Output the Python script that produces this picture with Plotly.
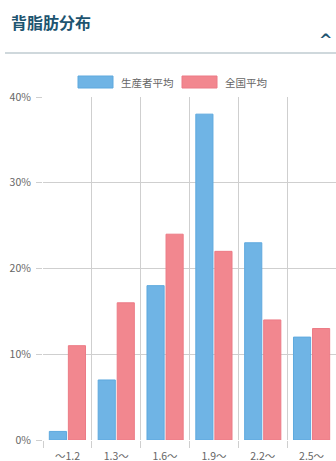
import plotly.graph_objects as go

# Back-fat thickness distribution (cm bands)
categories = ["〜1.2", "1.3〜", "1.6〜", "1.9〜", "2.2〜", "2.5〜"]
series_names = ["生産者平均", "全国平均"]
producer_avg = [1, 7, 18, 38, 23, 12]
national_avg = [11, 16, 24, 22, 14, 13]
y_ticks = [0, 10, 20, 30, 40]

colors = ["#6fb4e5", "#f2878f"]
borders = ["#5ea9de", "#ec7b86"]
font = "Noto Sans CJK JP"

fig = go.Figure()
for name, vals, c, b in zip(series_names, [producer_avg, national_avg], colors, borders):
    fig.add_trace(go.Bar(
        x=categories, y=vals, name=name,
        marker=dict(color=c, line=dict(color=b, width=1)),
        showlegend=False, hoverinfo="skip",
    ))

# invisible helper trace that carries the category-boundary grid
n = len(categories)
fig.add_trace(go.Scatter(x=[-0.5, n - 0.5], y=[0, 0], xaxis="x2", mode="none",
                         showlegend=False, hoverinfo="skip"))

fig.update_layout(
    width=336, height=461,
    margin=dict(l=43, r=0, t=97, b=21),
    paper_bgcolor="white", plot_bgcolor="white",
    barmode="group", bargap=0.22, bargroupgap=0.1,
    font=dict(family=font, size=10.5, color="#666666"),
    xaxis=dict(
        type="category", range=[-0.5, n - 0.5], showgrid=False,
        ticks="", tickfont=dict(size=10.5, color="#666666"),
        ticklabelstandoff=8, automargin=False,
        showline=False, zeroline=False, fixedrange=True,
    ),
    xaxis2=dict(
        overlaying="x", range=[-0.5, n - 0.5], side="bottom",
        tickvals=[i - 0.5 for i in range(n + 1)], showticklabels=False,
        showgrid=True, gridcolor="#cfcfcf", gridwidth=1,
        ticks="outside", ticklen=7, tickcolor="#cfcfcf",
        zeroline=False, showline=False, automargin=False,
    ),
    yaxis=dict(
        range=[0, 40], tickvals=y_ticks,
        ticktext=[f"{v}%" for v in y_ticks],
        showgrid=True, gridcolor="#cfcfcf", gridwidth=1,
        ticks="outside", ticklen=6, tickcolor="#cfcfcf",
        tickfont=dict(size=10.5, color="#666666"),
        ticklabelstandoff=3, automargin=False,
        zeroline=False, showline=False, fixedrange=True,
    ),
)

# header: title, collapse chevron and divider
fig.add_annotation(text="<b>背脂肪分布</b>", xref="paper", yref="paper",
                   x=-34 / 293, y=1 + 75 / 343, xanchor="left", yanchor="middle",
                   showarrow=False, font=dict(family=font, size=16, color="#1d5470"))
fig.add_annotation(text="<b>^</b>", xref="paper", yref="paper",
                   x=1 - 11 / 293, y=1 + 57 / 343, xanchor="center", yanchor="middle",
                   showarrow=False, font=dict(family="DejaVu Sans", size=16, color="#1d5470"))
fig.add_shape(type="line", xref="paper", yref="paper",
              x0=-38 / 293, x1=1, y0=1 + 44 / 343, y1=1 + 44 / 343,
              line=dict(color="#cfd8dc", width=2))

# legend drawn as wide swatches
legend_x = [78, 182]
for name, c, b, lx in zip(series_names, colors, borders, legend_x):
    fig.add_shape(type="rect", xref="paper", yref="paper",
                  x0=(lx - 43) / 293, x1=(lx - 43 + 35) / 293,
                  y0=1 + 9 / 343, y1=1 + 21 / 343,
                  fillcolor=c, line=dict(color=b, width=1))
    fig.add_annotation(text=name, xref="paper", yref="paper",
                       x=(lx - 43 + 41) / 293, y=1 + 15 / 343,
                       xanchor="left", yanchor="middle", showarrow=False,
                       font=dict(family=font, size=10.5, color="#666666"))

fig.write_html("out.html")
